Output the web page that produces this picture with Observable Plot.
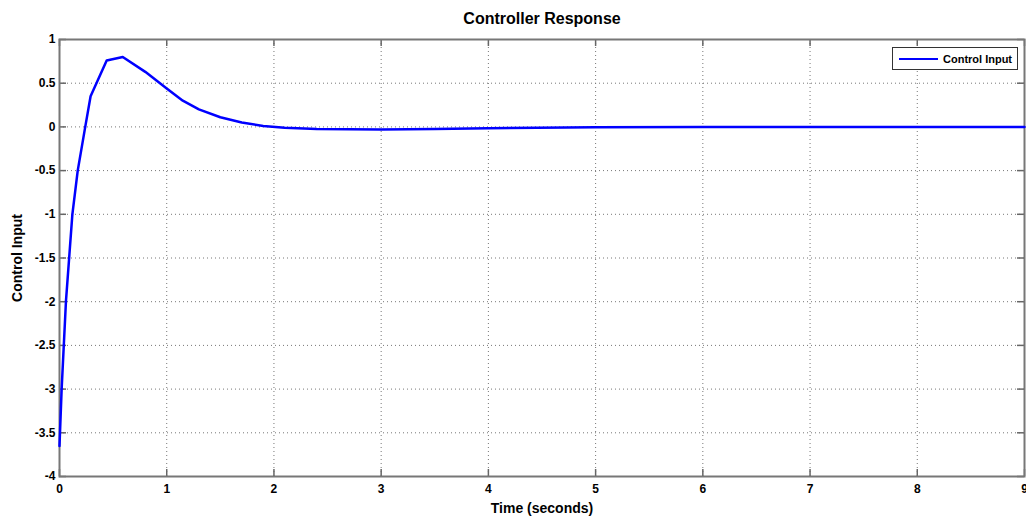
<!DOCTYPE html>
<html>
<head>
<meta charset="utf-8">
<script src="https://cdn.jsdelivr.net/npm/d3@7"></script>
<script src="https://cdn.jsdelivr.net/npm/@observablehq/plot@0.6"></script>
<style>
  html, body { margin: 0; padding: 0; background: #fff; }
  #wrap { position: relative; width: 1026px; height: 517px; overflow: hidden; }
  #legend {
    position: absolute; left: 892px; top: 47px; width: 126px; height: 23px;
    border: 1px solid #333; background: #fff; box-sizing: border-box;
    font-family: "Liberation Sans", Arial, sans-serif; font-weight: bold; font-size: 11px;
    display: flex; align-items: center;
  }
  #legend .sw { width: 39px; height: 0; border-top: 2px solid #0000ff; margin-left: 6px; margin-right: 5px; }
</style>
</head>
<body>
<div id="wrap"><div id="legend"><span class="sw"></span><span id="legtxt"></span></div></div>
<script>
const title = "Controller Response";
const xLabel = "Time (seconds)";
const yLabel = "Control Input";
const seriesName = "Control Input";

const time = [0, 0.02, 0.06, 0.12, 0.17, 0.24, 0.29, 0.44, 0.59, 0.80, 1.0, 1.15, 1.3, 1.5, 1.7, 1.9, 2.1, 2.4, 3.0, 3.5, 4.0, 5.0, 6.0, 9.0];
const control = [-3.65, -3.0, -2.0, -1.0, -0.5, 0.0, 0.35, 0.76, 0.80, 0.63, 0.44, 0.30, 0.20, 0.11, 0.05, 0.01, -0.01, -0.025, -0.03, -0.025, -0.015, -0.005, 0.0, 0.0];

const xTicks = [0, 1, 2, 3, 4, 5, 6, 7, 8, 9];
const yTicks = [1, 0.5, 0, -0.5, -1, -1.5, -2, -2.5, -3, -3.5, -4];

const data = time.map((t, i) => ({t, v: control[i]}));

const W = 1026, H = 517, mt = 39, mb = 41, ml = 59, mr = 2;
const fh = H - mt - mb, fw = W - ml - mr;
const tickLen = 7;
const gridStyle = {stroke: "#777", strokeOpacity: 1, strokeDasharray: "1,3", strokeWidth: 1};

document.getElementById("legtxt").textContent = seriesName;

const chart = Plot.plot({
  width: W, height: H,
  marginTop: mt, marginBottom: mb, marginLeft: ml, marginRight: mr,
  style: {fontFamily: "Liberation Sans, Arial, sans-serif", background: "#fff", color: "#000"},
  x: {domain: [0, 9]},
  y: {domain: [-4, 1]},
  marks: [
    Plot.gridX(xTicks, gridStyle),
    Plot.gridY(yTicks, gridStyle),
    Plot.tickX(xTicks, {x: d => d, insetTop: fh - tickLen, stroke: "#666", strokeWidth: 1.5}),
    Plot.tickX(xTicks, {x: d => d, insetBottom: fh - tickLen, stroke: "#666", strokeWidth: 1.5}),
    Plot.tickY(yTicks, {y: d => d, insetRight: fw - tickLen, stroke: "#666", strokeWidth: 1.5}),
    Plot.tickY(yTicks, {y: d => d, insetLeft: fw - tickLen, stroke: "#666", strokeWidth: 1.5}),
    Plot.frame({stroke: "#777", strokeWidth: 2}),
    Plot.axisX(xTicks, {tickSize: 0, tickPadding: 8, tickFormat: d => String(d), fontSize: 12, fontWeight: "bold",
      label: xLabel, labelAnchor: "center", labelArrow: "none", labelOffset: 36}),
    Plot.axisY(yTicks, {tickSize: 0, tickPadding: 4, tickFormat: d => String(d), fontSize: 12, fontWeight: "bold",
      label: yLabel, labelAnchor: "center", labelArrow: "none", labelOffset: 47}),
    Plot.line(data, {x: "t", y: "v", stroke: "#0000ff", strokeWidth: 2.5, strokeLinejoin: "round"}),
    Plot.text([title], {frameAnchor: "top", lineAnchor: "middle", dy: -21, fontSize: 16, fontWeight: "bold", fill: "#000"})
  ]
});
chart.style.position = "absolute";
chart.style.left = "0";
chart.style.top = "0";
d3.select(chart).selectAll("[aria-label='x-axis label'] text, [aria-label='y-axis label'] text")
  .style("font-size", "14px");
document.getElementById("wrap").prepend(chart);
</script>
</body>
</html>
